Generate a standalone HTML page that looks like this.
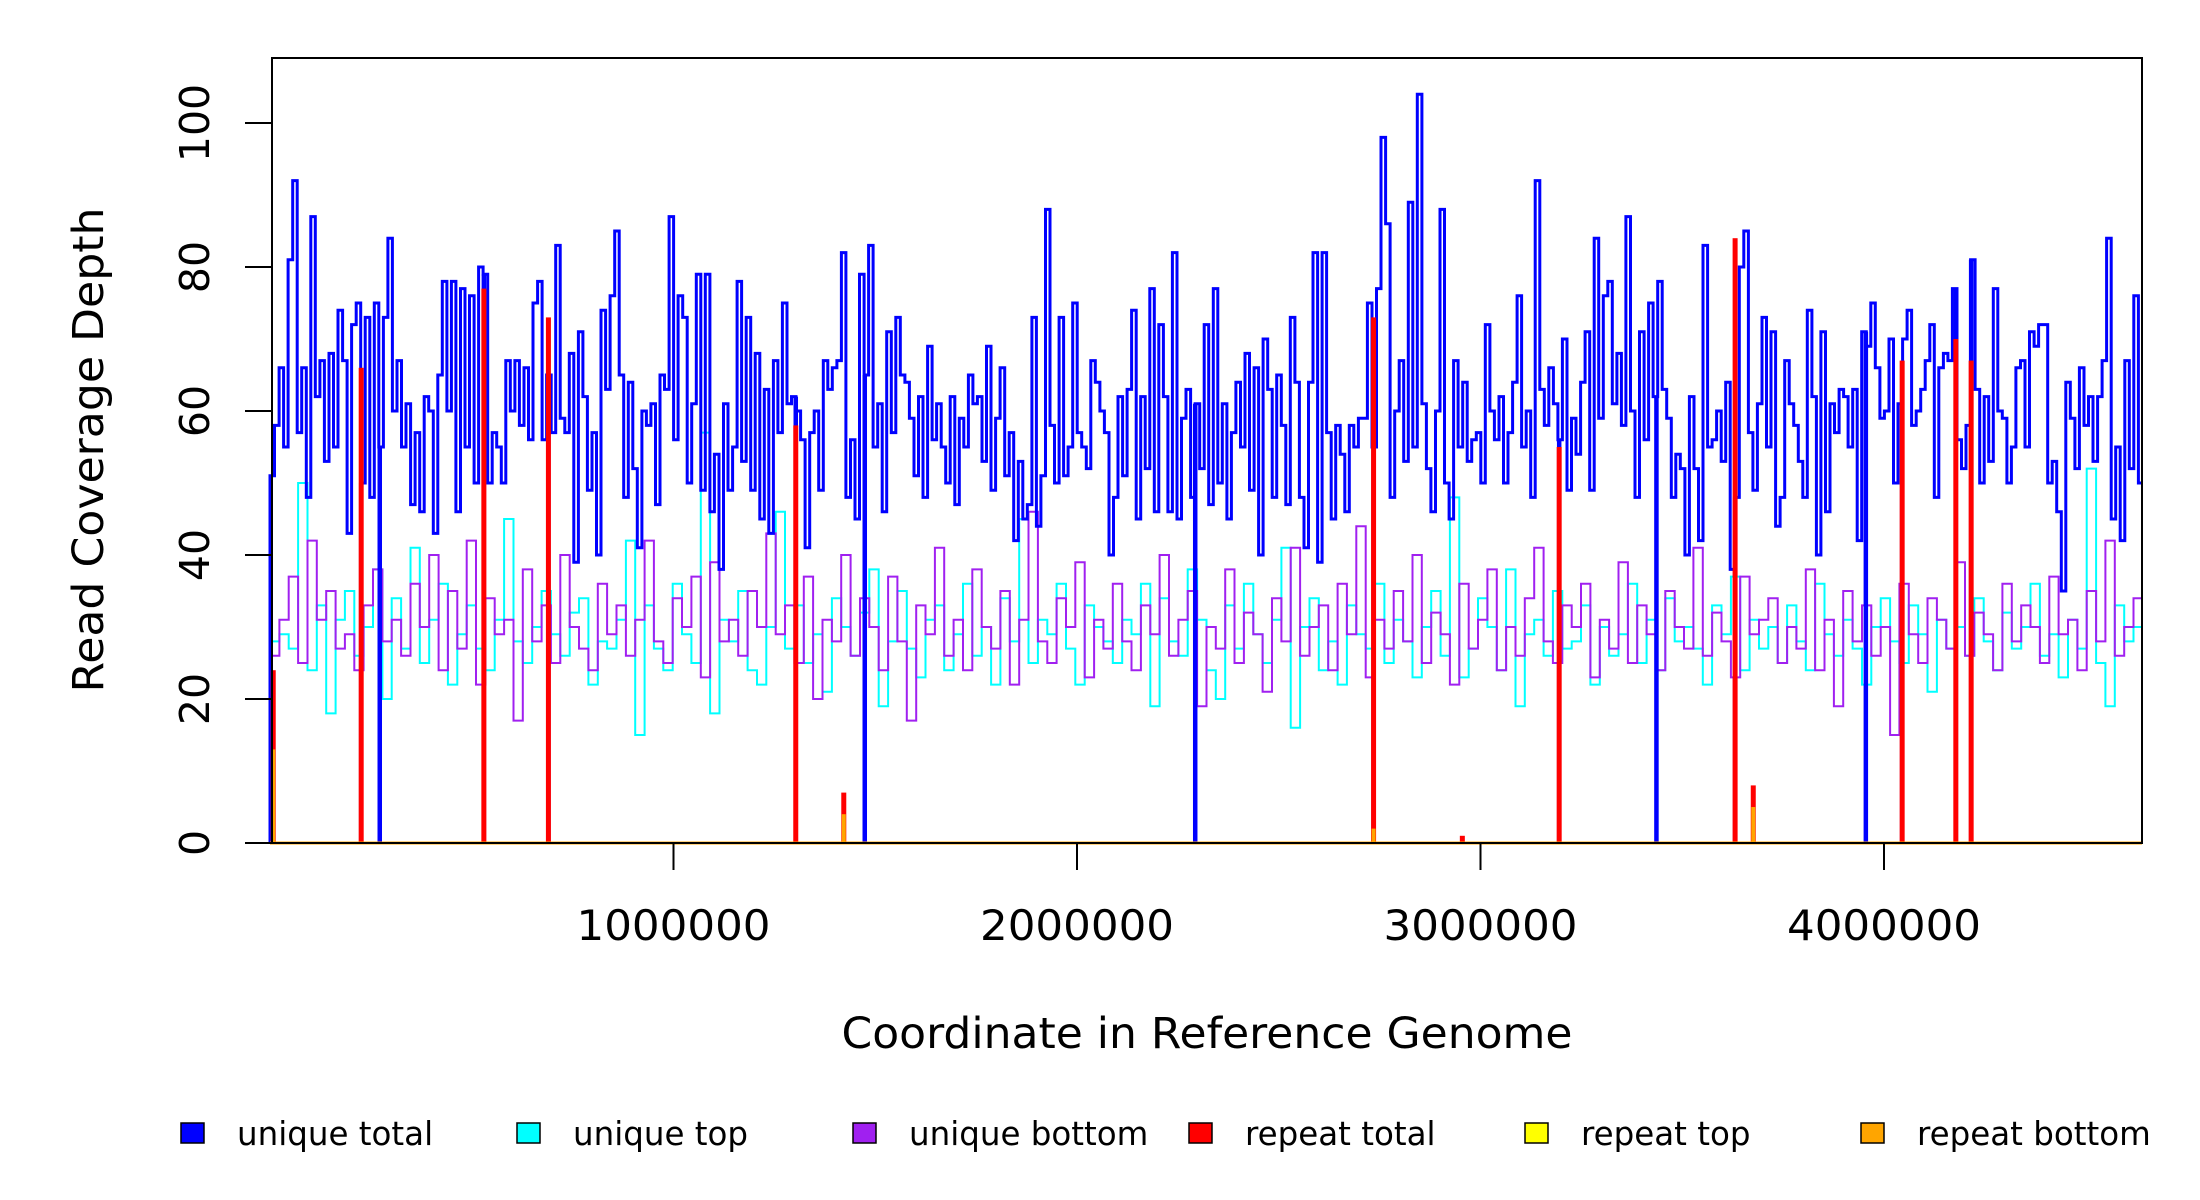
<!DOCTYPE html>
<html><head><meta charset="utf-8"><style>
html,body{margin:0;padding:0;background:#fff}
svg{display:block}
text{font-family:"DejaVu Sans","Liberation Sans",sans-serif;fill:#000}
</style></head><body>
<svg id="chart" width="2200" height="1200" viewBox="0 0 2200 1200" xmlns="http://www.w3.org/2000/svg">
<rect x="0" y="0" width="2200" height="1200" fill="#fff"/>
<g id="marks"></g>
<rect x="272" y="58" width="1870" height="785" fill="none" stroke="#000" stroke-width="2"/>
<g id="axes"></g>
<text x="1207" y="1048" font-size="43" text-anchor="middle" textLength="731" lengthAdjust="spacingAndGlyphs">Coordinate in Reference Genome</text>
<text transform="translate(103,450) rotate(-90)" font-size="43" text-anchor="middle" textLength="485" lengthAdjust="spacingAndGlyphs">Read Coverage Depth</text>
<g id="legend"></g>
</svg>
<script>
const genomeLen = 4641652;
const xTicks = [1000000, 2000000, 3000000, 4000000];
const xTickLabels = ["1000000", "2000000", "3000000", "4000000"];
const yTicks = [0, 20, 40, 60, 80, 100];
const yTickLabels = ["0", "20", "40", "60", "80", "100"];
const uniqueTotal = [51,58,66,55,81,92,57,66,48,87,62,67,53,68,55,74,67,43,72,75,50,73,48,75,55,73,
84,60,67,55,61,47,57,46,62,60,43,65,78,60,78,46,77,55,
76,50,80,79,50,57,55,50,67,60,67,58,66,56,75,78,56,65,57,83,
59,57,68,39,71,62,49,57,40,74,63,76,85,65,48,64,52,41,60,58,
61,47,65,63,87,56,76,73,50,61,79,49,79,46,54,38,61,49,55,78,
53,73,49,68,45,63,43,67,57,75,61,62,60,56,41,57,
60,49,67,63,66,67,82,48,56,45,79,65,83,55,61,46,71,57,73,
65,64,59,51,62,48,69,56,61,55,50,62,47,59,55,65,61,62,53,69,49,
59,66,51,57,42,53,45,47,73,44,51,88,58,50,73,51,55,75,57,55,52,
67,64,60,57,40,48,62,51,63,74,45,62,52,77,46,72,62,46,82,45,
59,63,48,61,52,72,47,77,50,61,45,57,64,55,68,49,66,40,70,63,
48,65,58,47,73,64,48,41,64,82,39,82,57,45,58,54,46,58,55,59,
59,75,55,77,98,86,48,60,67,53,89,55,104,61,52,46,60,88,50,
45,67,55,64,53,56,57,50,72,60,56,62,50,57,64,76,55,60,48,92,
63,58,66,61,56,70,49,59,54,64,71,49,84,59,76,78,61,68,58,87,
60,48,71,56,75,62,78,63,59,48,54,52,40,62,52,42,83,55,56,
60,53,64,38,48,80,85,57,49,61,73,55,71,44,48,67,61,58,
53,48,74,62,40,71,46,61,57,63,62,55,63,42,71,69,75,66,
59,60,70,50,61,70,74,58,60,63,67,72,48,66,68,67,77,56,
52,58,81,63,50,62,53,77,60,59,50,55,66,67,55,71,69,72,
72,50,53,46,35,64,59,52,66,58,62,53,62,67,84,45,55,42,67,52,76,50];
const uniqueTop = [28,29,27,50,24,33,18,31,35,26,30,38,20,34,27,41,25,31,36,22,29,33,27,24,31,45,28,25,30,35,
29,26,32,34,22,28,27,31,42,15,33,27,24,36,29,25,57,18,31,28,35,24,22,30,46,27,33,25,29,21,
34,30,26,32,38,19,28,35,27,23,31,33,24,29,36,26,30,22,34,28,45,25,31,29,36,27,22,33,30,28,
25,31,29,36,19,34,28,26,38,31,24,20,33,27,36,29,25,31,41,16,30,34,24,28,22,33,29,27,36,25,
31,28,23,30,35,26,48,23,27,34,30,24,38,19,29,31,26,35,27,28,33,22,30,26,29,36,25,31,24,34,
28,30,27,22,33,29,37,24,31,27,30,25,33,28,24,36,29,26,31,27,22,30,34,28,25,33,29,21,31,27,
30,26,34,28,24,32,27,30,36,26,29,23,31,27,52,25,19,33,28,30];
const uniqueBottom = [26,31,37,25,42,31,35,27,29,24,33,38,28,31,26,36,30,40,24,35,27,42,22,34,29,31,17,38,28,33,
25,40,30,27,24,36,29,33,26,31,42,28,25,34,30,37,23,39,28,31,26,35,30,43,29,33,25,37,20,31,
28,40,26,34,30,24,37,28,17,33,29,41,26,31,24,38,30,27,35,22,31,46,28,25,34,30,39,23,31,27,
36,28,24,33,29,40,26,31,35,19,30,27,38,25,32,29,21,34,28,41,26,30,33,24,36,29,44,23,31,27,
35,28,40,25,32,29,22,36,27,31,38,24,30,26,34,41,28,25,33,30,36,23,31,27,39,25,33,29,24,35,
30,27,41,26,32,28,23,37,29,31,34,25,30,27,38,24,31,19,35,28,33,26,30,15,36,29,25,34,31,27,
39,26,32,29,24,36,28,33,30,25,37,29,31,24,35,28,42,26,30,34];
const dropPos = [226000,272000,530000,690000,1303000,1474000,2293000,2735000,3195000,3436000,3631000,3955000,4045000,4178000,4216000];
const repeatPos = [8000,226000,530000,690000,1303000,1422000,2735000,2955000,3195000,3631000,3676000,4045000,4178000,4216000];
const repeatTotal = [24,66,77,73,58,7,73,1,55,84,8,67,70,67];
const repeatTop = [0,0,0,0,0,0,0,0,0,0,0,0,0,0];
const repeatBottom = [13,0,0,0,0,4,2,0,0,0,5,0,0,0];

const NS = "http://www.w3.org/2000/svg";
const X0 = 270, XS = 403.5/1e6, Y0 = 843, YS = 7.2;
function xScale(v){ return X0 + v*XS; }
function yScale(v){ return Y0 - v*YS; }
function mk(tag, attrs, parent){ const e=document.createElementNS(NS,tag); for(const k in attrs) e.setAttribute(k,attrs[k]); parent.appendChild(e); return e; }
const marks = document.getElementById('marks');
const axes = document.getElementById('axes');
const legend = document.getElementById('legend');

function valAt(arr, pos){ const i=Math.min(arr.length-1, Math.floor(pos/genomeLen*arr.length)); return arr[i]; }
function stepPath(arr){
  const w = genomeLen/arr.length;
  let d = "M"+xScale(0).toFixed(1)+","+yScale(0).toFixed(1);
  for(let i=0;i<arr.length;i++){
    d += " L"+xScale(i*w).toFixed(1)+","+yScale(arr[i]).toFixed(1)+" L"+xScale((i+1)*w).toFixed(1)+","+yScale(arr[i]).toFixed(1);
  }
  return d;
}
function drawSeries(arr, color, name, sw){
  const p = mk('path',{d:stepPath(arr),fill:'none',stroke:color,'stroke-width':sw,'stroke-linejoin':'miter'},marks);
  
  
  dropPos.forEach(pos=>{
    const l = mk('line',{x1:xScale(pos),x2:xScale(pos),y1:yScale(valAt(arr,pos)),y2:yScale(0),stroke:color,'stroke-width':sw+1.5},marks);
    
    
  });
}
drawSeries(uniqueTop,'#00ffff','unique-top-line',2);
drawSeries(uniqueBottom,'#a020f0','unique-bottom-line',2);
drawSeries(uniqueTotal,'#0000ff','unique-total-line',3);

function drawSpikes(vals, color, name, w){
  repeatPos.forEach((pos,i)=>{
    if(vals[i]<=0) return;
    const r = mk('rect',{x:xScale(pos)-w/2,y:yScale(vals[i]),width:w,height:yScale(0)-yScale(vals[i]),fill:color},marks);
    
    
  });
}
drawSpikes(repeatTotal,'#ff0000','repeat-total-spike',5);
drawSpikes(repeatTop,'#ffff00','repeat-top-spike',4);
drawSpikes(repeatBottom,'#ffa500','repeat-bottom-spike',4);
const base = mk('line',{x1:xScale(0),x2:2142,y1:yScale(0),y2:yScale(0),stroke:'#ffa500','stroke-width':3},marks);



xTicks.forEach((t,i)=>{
  const x = xScale(t);
  const l = mk('line',{x1:x,x2:x,y1:843,y2:870,stroke:'#000','stroke-width':2},axes);
  
  
  const tx = mk('text',{x:x,y:940,'font-size':42,'text-anchor':'middle',textLength:194,lengthAdjust:'spacingAndGlyphs'},axes);
  tx.textContent = xTickLabels[i];
  
  
});
yTicks.forEach((t,i)=>{
  const y = yScale(t);
  const l = mk('line',{x1:245,x2:272,y1:y,y2:y,stroke:'#000','stroke-width':2},axes);
  
  
  const tx = mk('text',{transform:'translate(209,'+y+') rotate(-90)','font-size':41,'text-anchor':'middle'},axes);
  tx.textContent = yTickLabels[i];
  
  
});

const legendLabels = ["unique total","unique top","unique bottom","repeat total","repeat top","repeat bottom"];
const legendColors = ["#0000ff","#00ffff","#a020f0","#ff0000","#ffff00","#ffa500"];
legendLabels.forEach((lab,i)=>{
  const bx = 181 + i*336;
  const g = mk('g',{},legend);
  
  
  mk('rect',{x:bx,y:1123,width:23,height:20,fill:legendColors[i],stroke:'#000','stroke-width':1.5},g);
  const t = mk('text',{x:bx+56,y:1145,'font-size':32.5},g);
  t.textContent = lab;
});
</script>
</body></html>
